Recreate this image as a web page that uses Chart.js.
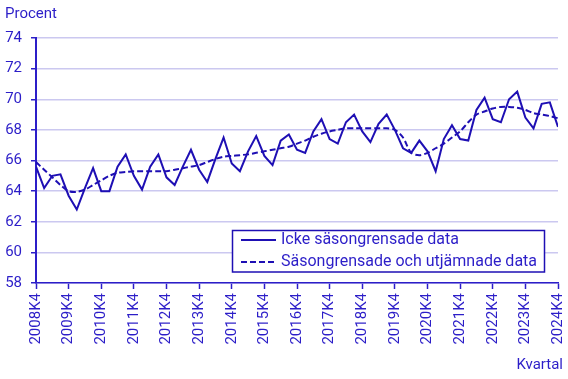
<!DOCTYPE html>
<html>
<head>
<meta charset="utf-8">
<script src="https://cdn.jsdelivr.net/npm/chart.js@4"></script>
<style>
html,body{margin:0;padding:0;background:#fff;}
canvas{display:block;}
</style>
</head>
<body>
<canvas id="c" width="568" height="379"></canvas>
<script>
const tickLabels = ['2008K4','2009K4','2010K4','2011K4','2012K4','2013K4','2014K4','2015K4','2016K4','2017K4','2018K4','2019K4','2020K4','2021K4','2022K4','2023K4','2024K4'];

const unadjusted = [
  65.6,
  64.2, 65.0, 65.1, 63.7,
  62.8, 64.2, 65.5, 64.0,
  64.0, 65.6, 66.4, 65.0,
  64.1, 65.6, 66.4, 64.9,
  64.4, 65.6, 66.7, 65.4,
  64.6, 66.1, 67.5, 65.8,
  65.3, 66.6, 67.6, 66.3,
  65.7, 67.3, 67.7, 66.7,
  66.5, 67.9, 68.7, 67.4,
  67.1, 68.5, 69.0, 67.9,
  67.2, 68.4, 69.0, 68.0,
  66.8, 66.5, 67.3, 66.6,
  65.3, 67.4, 68.3, 67.4,
  67.3, 69.3, 70.1, 68.7,
  68.5, 70.0, 70.5, 68.8,
  68.1, 69.7, 69.8, 68.2
];

const smoothed = [
  65.9,
  65.4, 64.9, 64.4, 64.0,
  63.95, 64.1, 64.4, 64.7,
  65.0, 65.2, 65.25, 65.3,
  65.3, 65.3, 65.3, 65.3,
  65.4, 65.5, 65.6, 65.7,
  65.9, 66.1, 66.25, 66.3,
  66.35, 66.4, 66.5, 66.6,
  66.7, 66.8, 66.9, 67.1,
  67.3, 67.55, 67.75, 67.9,
  68.0, 68.1, 68.1, 68.1,
  68.1, 68.1, 68.1, 68.0,
  67.5, 66.5, 66.35, 66.5,
  66.8, 67.1, 67.5, 67.9,
  68.5, 69.0, 69.2, 69.4,
  69.5, 69.5, 69.45, 69.3,
  69.1, 69.0, 68.9, 68.75
];

const seriesNames = ['Icke säsongrensade data', 'Säsongrensade och utjämnade data'];
const yAxisTitle = 'Procent';
const xAxisTitle = 'Kvartal';

const LINE = '#1e0fb4';
const TEXT = '#2c1ec8';
const GRID = '#cbc8f0';
const FONT = {family: 'Roboto', size: 15};

const toXY = arr => arr.map((v, i) => ({x: i, y: v}));

const extras = {
  id: 'extras',
  afterDraw(chart) {
    const ctx = chart.ctx;
    const ca = chart.chartArea;
    ctx.save();
    ctx.fillStyle = TEXT;
    ctx.font = '15px Roboto';
    ctx.textBaseline = 'middle';
    ctx.textAlign = 'left';
    ctx.fillText(yAxisTitle, 5, 14);
    ctx.textAlign = 'right';
    ctx.fillText(xAxisTitle, ca.right + 5, 365);

    // legend
    const bx = 232.5, by = 230.5, bw = 312, bh = 41.5;
    ctx.fillStyle = '#fff';
    ctx.fillRect(bx, by, bw, bh);
    ctx.strokeStyle = LINE;
    ctx.lineWidth = 1.5;
    ctx.strokeRect(bx, by, bw, bh);
    const rows = [240, 262];
    ctx.font = '16px Roboto';
    chart.data.datasets.forEach((ds, i) => {
      const y = rows[i];
      ctx.beginPath();
      ctx.setLineDash(ds.borderDash || []);
      ctx.lineWidth = 2;
      ctx.strokeStyle = ds.borderColor;
      ctx.moveTo(241, y);
      ctx.lineTo(276, y);
      ctx.stroke();
      ctx.setLineDash([]);
      ctx.fillStyle = TEXT;
      ctx.textAlign = 'left';
      ctx.textBaseline = 'middle';
      ctx.fillText(ds.label, 281, y);
    });
    ctx.restore();
  }
};

new Chart(document.getElementById('c'), {
  type: 'line',
  data: {
    datasets: [
      {label: seriesNames[0], data: toXY(unadjusted), borderColor: LINE, borderWidth: 2, pointRadius: 0, tension: 0, fill: false},
      {label: seriesNames[1], data: toXY(smoothed), borderColor: LINE, borderWidth: 2, borderDash: [6, 3], pointRadius: 0, tension: 0.3, fill: false}
    ]
  },
  options: {
    responsive: false,
    animation: false,
    devicePixelRatio: 1,
    layout: {padding: {top: 38, right: 10, left: 0, bottom: 0}},
    plugins: {legend: {display: false}, tooltip: {enabled: false}, title: {display: false}},
    scales: {
      x: {
        type: 'linear', min: 0, max: 64,
        afterFit: s => { s.height = 96; s.paddingLeft = 0; s.paddingRight = 0; },
        ticks: {
          stepSize: 4, autoSkip: false, maxRotation: 90, minRotation: 90,
          color: TEXT, font: FONT, padding: 4,
          callback: v => tickLabels[Math.round(v / 4)]
        },
        grid: {drawOnChartArea: false, tickLength: 6, tickColor: TEXT, tickWidth: 1.5},
        border: {color: TEXT, width: 1.5}
      },
      y: {
        min: 58, max: 74,
        afterFit: s => { s.width = 36; s.paddingTop = 0; s.paddingBottom = 0; },
        ticks: {stepSize: 2, color: TEXT, font: FONT, padding: 9},
        grid: {color: GRID, lineWidth: 1.5, tickLength: 5, tickColor: TEXT, tickWidth: 1.5},
        border: {color: TEXT, width: 2}
      }
    }
  },
  plugins: [extras]
});
</script>
</body>
</html>
